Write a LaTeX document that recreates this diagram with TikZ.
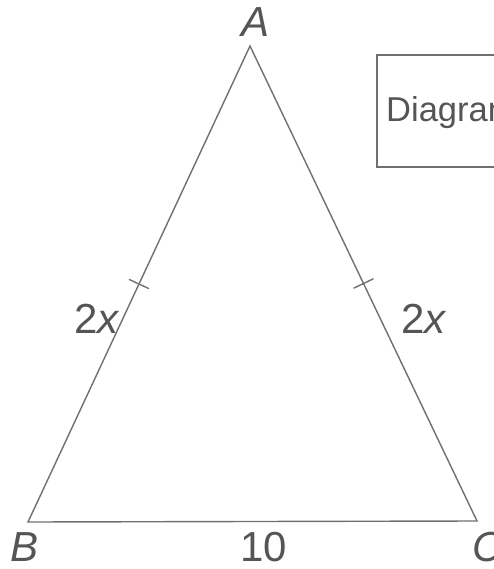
\documentclass[tikz,border=0pt]{standalone}
\usepackage{fontspec}
\setmainfont{Liberation Sans}
\usetikzlibrary{calc}
\definecolor{linegray}{HTML}{707070}
\definecolor{textgray}{HTML}{555555}
\tikzset{
  side/.style={draw=linegray, line width=1.4pt},
  tickmark/.style={draw=linegray, line width=1.4pt},
  lbl/.style={text=textgray, inner sep=0pt, font=\fontsize{42}{42}\selectfont},
  boxlbl/.style={text=textgray, inner sep=0pt, font=\fontsize{34.5}{34.5}\selectfont}
}
\begin{document}
\begin{tikzpicture}[x=1pt,y=-1pt]
\useasboundingbox (0,0) rectangle (494,569);
\clip (0,0) rectangle (494,569);
\fill[white] (0,0) rectangle (494,569);
% vertices
\coordinate (A) at (250,46);
\coordinate (B) at (28,522);
\coordinate (C) at (477,521);
\draw[side] (A) -- (B) -- (C) -- cycle;
% tick marks at midpoints
\coordinate (mAB) at ($(A)!0.5!(B)$);
\coordinate (mAC) at ($(A)!0.5!(C)$);
\draw[tickmark] ($(mAB)!11pt!90:(A)$) -- ($(mAB)!11pt!-90:(A)$);
\draw[tickmark] ($(mAC)!11pt!90:(A)$) -- ($(mAC)!11pt!-90:(A)$);
% labels
\node[lbl] (la) at (256,22) {\textit{A}};
\node[lbl] (lb) at (25,547) {\textit{B}};
\node[lbl] (lc) at (488,547) {\textit{C}};
\node[lbl] (l10) at (264,547) {10};
\node[lbl] (l2xl) at (97,319) {2\textit{x}};
\node[lbl] (l2xr) at (424,319) {2\textit{x}};
% box
\draw[draw=linegray, line width=1.2pt] (377,55) rectangle (600,167);
\node[boxlbl, anchor=base west] (diag) at (386,122) {Diagram};
\end{tikzpicture}
\end{document}
